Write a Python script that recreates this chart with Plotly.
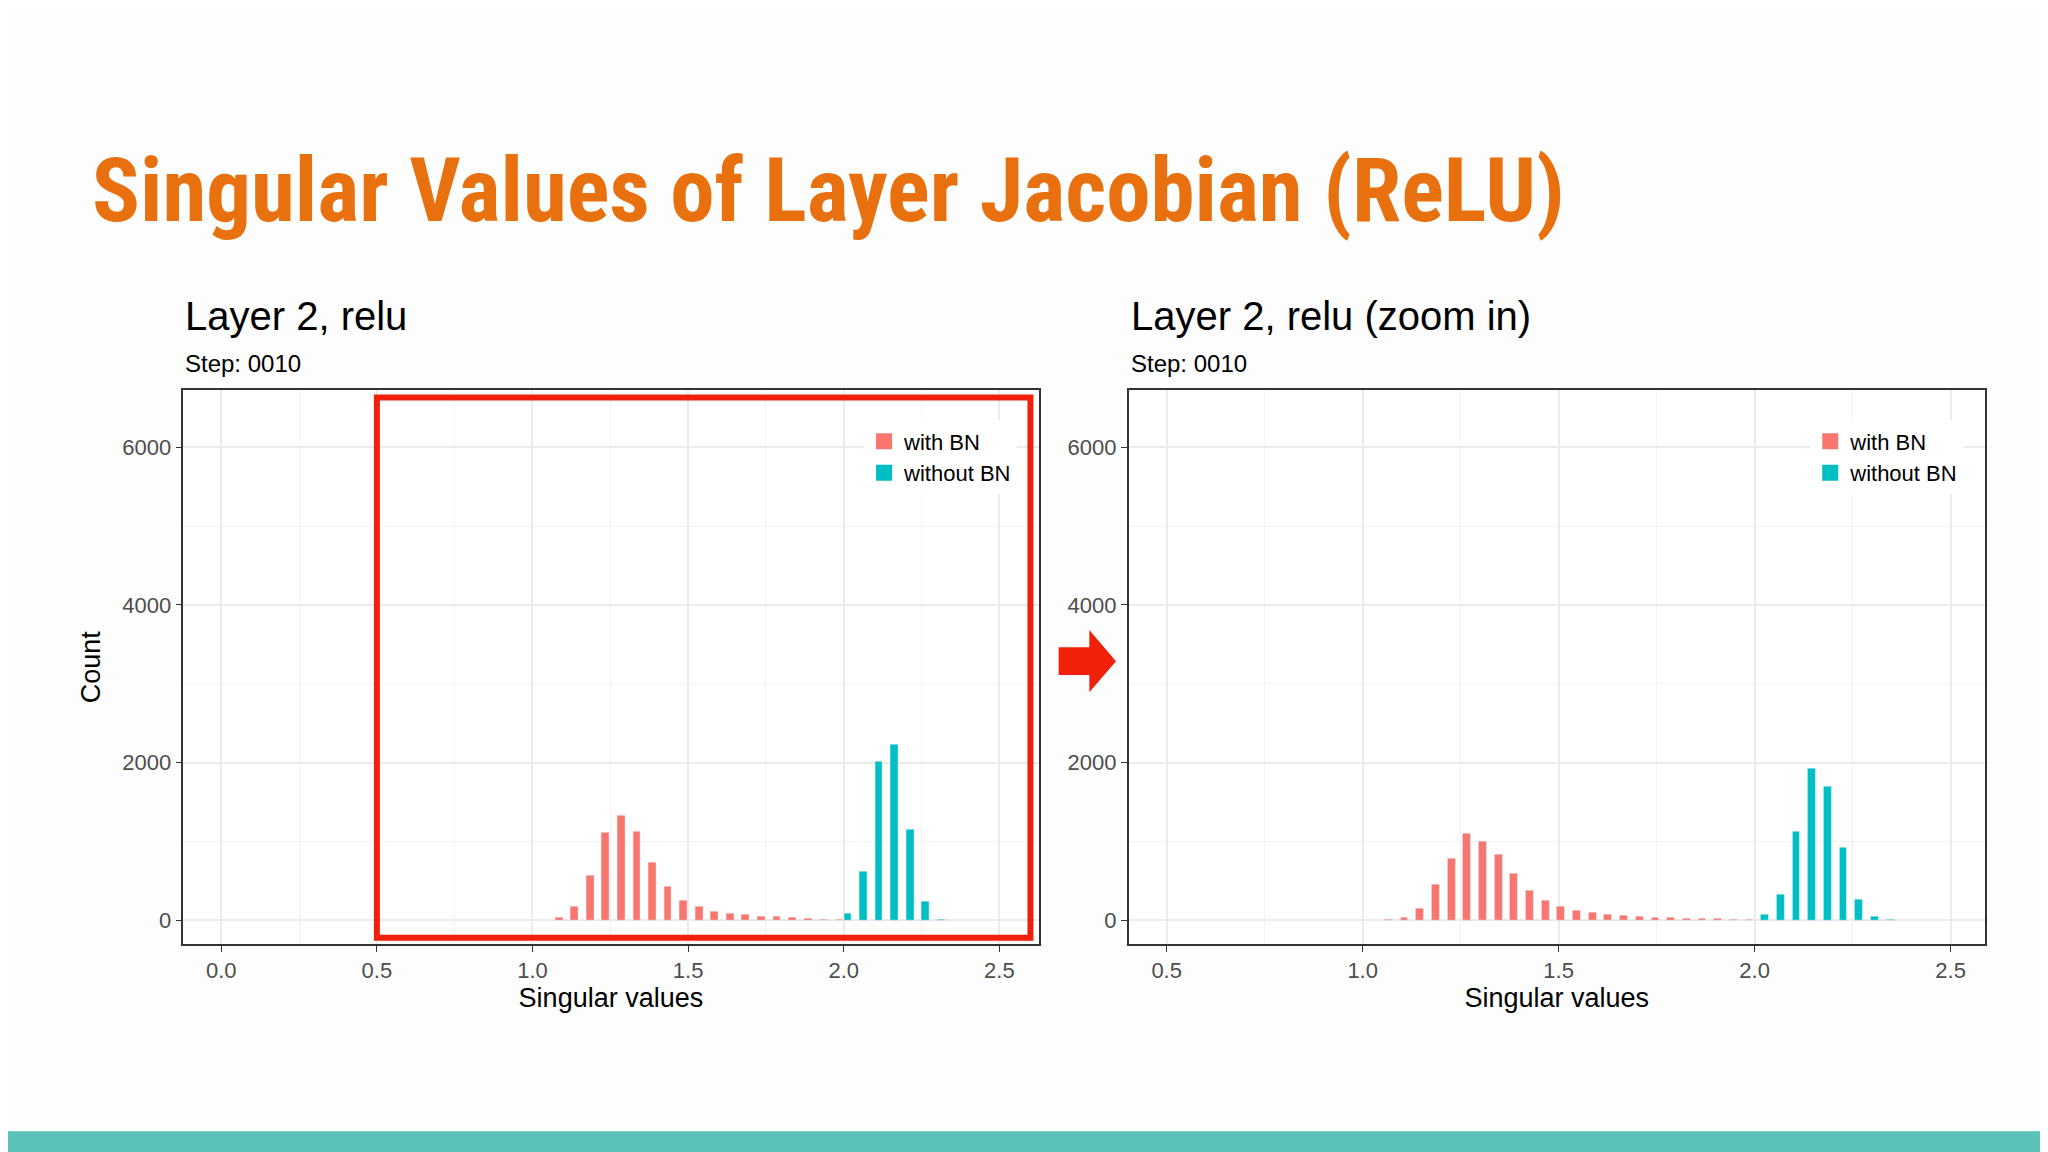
import plotly.graph_objects as go

# Left panel (full range) histogram
left_bn_x = [1.085 + 0.05*i for i in range(19)]
left_bn_y = [40, 170, 570, 1110, 1330, 1125, 740, 430, 250, 170, 115, 85, 70, 55, 45, 35, 25, 15, 10]
left_nobn_x = [2.013 + 0.05*i for i in range(7)]
left_nobn_y = [85, 615, 2020, 2225, 1150, 240, 17]

# Right panel (zoom in) histogram
right_bn_x = [1.066 + 0.04*i for i in range(24)]
right_bn_y = [10, 40, 150, 450, 780, 1105, 1005, 830, 590, 375, 255, 180, 120, 95, 70, 60, 50, 40, 35, 30, 20, 18, 10, 5]
right_nobn_x = [2.026 + 0.04*i for i in range(9)]
right_nobn_y = [70, 330, 1130, 1930, 1695, 925, 262, 43, 8]

RED = "#F8766D"
TEAL = "#00BFC4"
W, H = 2048, 1152

fig = go.Figure()
fig.add_bar(x=left_bn_x, y=left_bn_y, width=0.025, marker_color=RED, showlegend=False, xaxis="x", yaxis="y")
fig.add_bar(x=left_nobn_x, y=left_nobn_y, width=0.025, marker_color=TEAL, showlegend=False, xaxis="x", yaxis="y")
fig.add_bar(x=right_bn_x, y=right_bn_y, width=0.02, marker_color=RED, showlegend=False, xaxis="x2", yaxis="y2")
fig.add_bar(x=right_nobn_x, y=right_nobn_y, width=0.02, marker_color=TEAL, showlegend=False, xaxis="x2", yaxis="y2")
# legend entries with large square keys
for lg, xa, ya in [("legend", "x", "y"), ("legend2", "x2", "y2")]:
    for nm, col in [("with BN", RED), ("without BN", TEAL)]:
        fig.add_scatter(x=[None], y=[None], mode="markers", name=nm, legend=lg, xaxis=xa, yaxis=ya,
                        marker=dict(symbol="square", size=40, color=col))

grid = "#EBEBEB"
tickfont = dict(family="Liberation Sans, Arial", size=22, color="#4D4D4D")
def xax(dom, rng, ticks):
    return dict(domain=dom, range=rng, tickvals=ticks, ticktext=[f"{t:.1f}" for t in ticks],
                showgrid=True, gridcolor=grid, gridwidth=2, zeroline=False,
                minor=dict(showgrid=True, gridcolor="#F3F3F3", gridwidth=1, dtick=0.25, tick0=0),
                ticks="outside", ticklen=6, tickcolor="#333", tickfont=tickfont,
                showline=True, linecolor="#333", linewidth=1.5, mirror=True,
                title=dict(text="Singular values", font=dict(family="Liberation Sans, Arial", size=27, color="black"), standoff=6))
def yax(dom, rng, anchor, title):
    return dict(domain=dom, range=rng, tickvals=[0, 2000, 4000, 6000], anchor=anchor,
                showgrid=True, gridcolor=grid, gridwidth=2, zeroline=False,
                minor=dict(showgrid=True, gridcolor="#F3F3F3", gridwidth=1, dtick=1000, tick0=0),
                ticks="outside", ticklen=6, tickcolor="#333", tickfont=tickfont,
                showline=True, linecolor="#333", linewidth=1.5, mirror=True,
                title=dict(text=title, font=dict(family="Liberation Sans, Arial", size=27, color="black"), standoff=14))

ydom = [0.1875, 0.668]
fig.update_layout(
    width=W, height=H, margin=dict(l=0, r=0, t=0, b=0),
    paper_bgcolor="#FDFDFD", plot_bgcolor="white", bargap=0, barmode="overlay",
    xaxis=xax([0.0856, 0.5032], [-0.122, 2.626], [0.0, 0.5, 1.0, 1.5, 2.0, 2.5]),
    yaxis=yax(ydom, [-300, 6720], "x", "Count"),
    xaxis2=dict(xax([0.5472, 0.9652], [0.403, 2.587], [0.5, 1.0, 1.5, 2.0, 2.5]), anchor="y2"),
    yaxis2=yax(ydom, [-300, 6720], "x2", ""),
    legend=dict(x=0.418, y=0.642, xanchor="left", yanchor="top", bgcolor="white", tracegroupgap=0,
                font=dict(family="Liberation Sans, Arial", size=22, color="black"), itemsizing="trace"),
    legend2=dict(x=0.880, y=0.642, xanchor="left", yanchor="top", bgcolor="white", tracegroupgap=0,
                 font=dict(family="Liberation Sans, Arial", size=22, color="black"), itemsizing="trace"),
    showlegend=True,
)

def txt(x, y, s, size, **kw):
    fig.add_annotation(x=x, y=y, xref="paper", yref="paper", text=s, showarrow=False,
                       xanchor="left", yanchor="middle", font=dict(size=size, **kw))

txt(0.040, 0.842, "<b>Singular Values of Layer Jacobian (ReLU)</b>", 89,
    family="Liberation Sans Narrow, Roboto Condensed, Arial Narrow", color="#E8700E")
txt(0.0856, 0.733, "Layer 2, relu", 40, family="Liberation Sans, Arial", color="black")
txt(0.0856, 0.691, "Step: 0010", 24, family="Liberation Sans, Arial", color="black")
txt(0.5472, 0.733, "Layer 2, relu (zoom in)", 40, family="Liberation Sans, Arial", color="black")
txt(0.5472, 0.691, "Step: 0010", 24, family="Liberation Sans, Arial", color="black")

# red highlight rectangle on left panel
fig.add_shape(type="rect", xref="x", yref="paper", x0=0.5, x1=2.6, y0=0.193, y1=0.662,
              line=dict(color="#F0200A", width=6), fillcolor="rgba(0,0,0,0)")
# red arrow
fig.add_shape(type="path", xref="paper", yref="paper",
              path="M 0.513 0.445 L 0.528 0.445 L 0.528 0.460 L 0.541 0.433 L 0.528 0.406 L 0.528 0.421 L 0.513 0.421 Z",
              fillcolor="#F0200A", line=dict(width=0))
# bottom teal band
fig.add_shape(type="rect", xref="paper", yref="paper", x0=0, x1=1, y0=0, y1=0.025,
              fillcolor="#5BC0B5", line=dict(width=0))

fig.write_html("out.html")
